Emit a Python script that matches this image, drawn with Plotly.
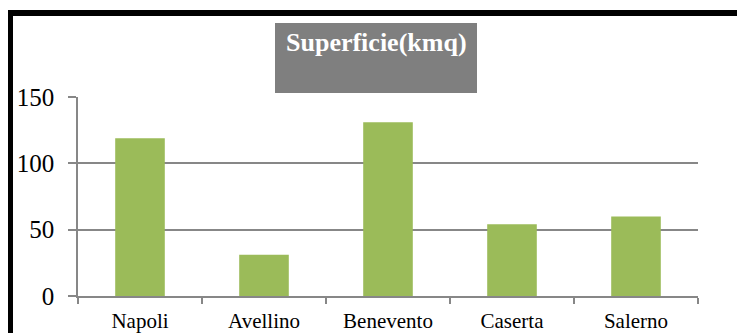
import plotly.graph_objects as go

categories = ["Napoli", "Avellino", "Benevento", "Caserta", "Salerno"]
superficie = [119, 31, 131, 54, 60]
y_ticks = [0, 50, 100, 150]
title_text = "Superficie(kmq)"

W, H = 737, 333
L, R, T, B = 78, 39, 97, 37
PW, PH = W - L - R, H - T - B


def px(x):
    return (x - L) / PW


def py(y):
    return (H - B - y) / PH


GRID = "#878787"
FONT = "Times New Roman, Liberation Serif, DejaVu Serif, serif"

fig = go.Figure(
    go.Bar(
        x=categories,
        y=superficie,
        marker=dict(color="#9bbb59", line=dict(width=0)),
        width=0.4,
    )
)

fig.update_layout(
    width=W,
    height=H,
    margin=dict(l=L, r=R, t=T, b=B, autoexpand=False),
    paper_bgcolor="white",
    plot_bgcolor="white",
    showlegend=False,
    font=dict(family=FONT, color="black"),
    shapes=[
        # outer frame (left + top)
        dict(type="line", xref="paper", yref="paper",
             x0=px(10.5), x1=px(10.5), y0=py(10), y1=py(340),
             line=dict(color="black", width=5)),
        dict(type="line", xref="paper", yref="paper",
             x0=px(8), x1=px(745), y0=py(13), y1=py(13),
             line=dict(color="black", width=6)),
        # title box
        dict(type="rect", xref="paper", yref="paper",
             x0=px(275), x1=px(477), y0=py(93), y1=py(23),
             fillcolor="#7f7f7f", line=dict(width=0), layer="above"),
    ],
    annotations=[
        dict(text="<b>" + title_text + "</b>", xref="paper", yref="paper",
             x=px(376), y=py(43), xanchor="center", yanchor="middle",
             showarrow=False, font=dict(family=FONT, size=26, color="white")),
    ],
)

fig.update_xaxes(
    automargin=False,
    showline=True, linecolor=GRID, linewidth=1.5,
    ticks="outside", tickson="boundaries", ticklen=6, tickcolor=GRID, tickwidth=1.5,
    tickfont=dict(family=FONT, size=21, color="black"),
    ticklabelstandoff=5,
    showgrid=False,
)
fig.update_yaxes(
    automargin=False,
    range=[0, 150], tickvals=y_ticks,
    showline=True, linecolor=GRID, linewidth=1.5,
    ticks="outside", ticklen=8, tickcolor=GRID, tickwidth=1.5,
    tickfont=dict(family=FONT, size=25, color="black"),
    ticklabelstandoff=9,
    showgrid=True, gridcolor=GRID, gridwidth=1.5,
    zeroline=False,
)

fig.write_html("out.html")
